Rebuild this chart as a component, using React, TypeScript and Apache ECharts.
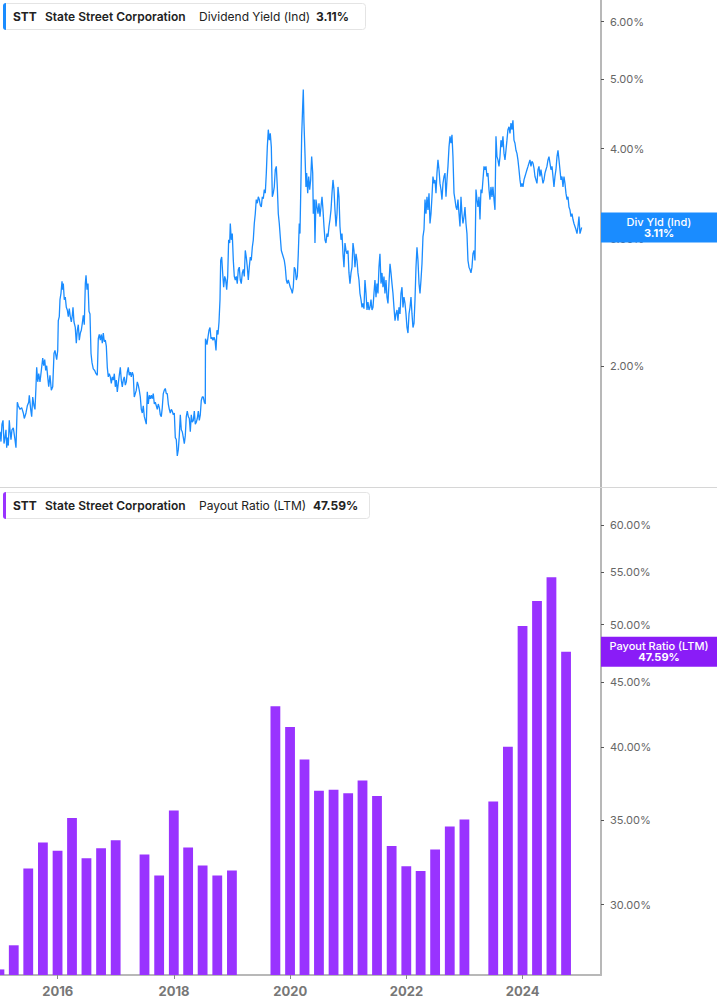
import React, { useEffect, useRef } from "react";
import * as echarts from "echarts";

// ---------- data ----------
const yearTicks = [2016, 2018, 2020, 2022, 2024];
const yieldTicks = [2, 3, 4, 5, 6];
const payoutTicks = [30, 35, 40, 45, 50, 55, 60];

const xStart = 2015.007;
const xEnd = 2025.347;
const yieldMin = 1.358;
const yieldMax = 6.43;
const payoutMin = 26.38;
const payoutMax = 64.17;

const latestYield = 3.11;
const latestPayout = 47.59;

const payoutDates = [
  "2014-12-31", "2015-03-31", "2015-06-30", "2015-09-30", "2015-12-31",
  "2016-03-31", "2016-06-30", "2016-09-30", "2016-12-31",
  "2017-06-30", "2017-09-30", "2017-12-31",
  "2018-03-31", "2018-06-30", "2018-09-30", "2018-12-31",
  "2019-09-30", "2019-12-31",
  "2020-03-31", "2020-06-30", "2020-09-30", "2020-12-31",
  "2021-03-31", "2021-06-30", "2021-09-30", "2021-12-31",
  "2022-03-31", "2022-06-30", "2022-09-30", "2022-12-31",
  "2023-06-30", "2023-09-30", "2023-12-31",
  "2024-03-31", "2024-06-30", "2024-09-30",
];
const payoutValues = [
  26.65, 27.85, 32.04, 33.6, 33.09,
  35.14, 32.65, 33.25, 33.74,
  32.87, 31.63, 35.62,
  33.29, 32.22, 31.63, 31.92,
  43.08, 41.48,
  39.1, 36.92, 36.99, 36.75,
  37.63, 36.57, 33.39, 32.17,
  31.9, 33.17, 34.59, 35.04,
  36.21, 40.01, 49.88,
  52.22, 54.53, 47.59,
];

// [decimal year, dividend yield %]
const divYield: [number, number][] = [
  [2015.007,1.62],[2015.024,1.57],[2015.041,1.66],[2015.059,1.68],[2015.076,1.56],[2015.093,1.59],[2015.110,1.63],[2015.122,1.54],[2015.133,1.59],[2015.150,1.55],
  [2015.167,1.68],[2015.179,1.63],[2015.196,1.58],[2015.213,1.63],[2015.236,1.64],[2015.260,1.59],[2015.282,1.54],[2015.294,1.54],[2015.305,1.78],[2015.322,1.76],
  [2015.351,1.74],[2015.380,1.75],[2015.408,1.72],[2015.425,1.69],[2015.454,1.72],[2015.477,1.76],[2015.501,1.78],[2015.511,1.82],[2015.535,1.74],[2015.552,1.70],
  [2015.570,1.81],[2015.592,1.76],[2015.609,1.74],[2015.626,1.87],[2015.638,1.99],[2015.656,1.90],[2015.673,1.95],[2015.695,1.90],[2015.718,1.97],[2015.742,2.05],
  [2015.759,2.00],[2015.776,2.04],[2015.793,1.97],[2015.810,2.00],[2015.828,1.93],[2015.845,1.87],[2015.867,1.94],[2015.890,1.85],[2015.914,1.87],[2015.936,2.08],
  [2015.953,2.10],[2015.982,2.04],[2016.000,2.10],[2016.010,2.31],[2016.027,2.34],[2016.039,2.47],[2016.056,2.52],[2016.074,2.62],[2016.086,2.55],[2016.096,2.60],
  [2016.113,2.47],[2016.130,2.49],[2016.148,2.41],[2016.165,2.39],[2016.182,2.34],[2016.199,2.40],[2016.216,2.34],[2016.234,2.30],[2016.251,2.35],[2016.263,2.41],
  [2016.280,2.30],[2016.302,2.26],[2016.320,2.15],[2016.337,2.24],[2016.354,2.28],[2016.371,2.17],[2016.389,2.22],[2016.406,2.24],[2016.423,2.29],[2016.440,2.35],
  [2016.457,2.28],[2016.475,2.60],[2016.487,2.67],[2016.504,2.55],[2016.521,2.60],[2016.538,2.38],[2016.555,2.36],[2016.573,2.08],[2016.590,2.02],[2016.612,1.98],
  [2016.636,1.97],[2016.659,1.95],[2016.681,1.94],[2016.698,2.18],[2016.715,2.21],[2016.733,2.17],[2016.750,2.21],[2016.767,2.15],[2016.784,2.22],[2016.801,2.16],
  [2016.819,2.17],[2016.836,2.13],[2016.853,1.99],[2016.870,1.93],[2016.887,1.95],[2016.905,1.93],[2016.922,1.89],[2016.939,1.93],[2016.956,1.91],[2016.974,1.95],
  [2016.991,1.87],[2017.008,1.91],[2017.025,1.84],[2017.042,1.89],[2017.059,1.94],[2017.077,1.99],[2017.094,1.91],[2017.111,1.87],[2017.128,1.91],[2017.145,1.93],
  [2017.163,1.88],[2017.180,1.90],[2017.197,1.96],[2017.214,1.99],[2017.231,1.94],[2017.249,1.96],[2017.266,1.93],[2017.283,1.96],[2017.300,1.94],[2017.317,1.81],
  [2017.335,1.83],[2017.352,1.85],[2017.369,1.90],[2017.386,1.88],[2017.403,1.85],[2017.421,1.81],[2017.438,1.74],[2017.455,1.72],[2017.472,1.76],[2017.490,1.70],
  [2017.507,1.68],[2017.524,1.66],[2017.541,1.84],[2017.558,1.77],[2017.576,1.82],[2017.593,1.80],[2017.610,1.82],[2017.627,1.80],[2017.644,1.83],[2017.662,1.77],
  [2017.679,1.78],[2017.696,1.76],[2017.713,1.74],[2017.730,1.77],[2017.748,1.75],[2017.765,1.71],[2017.782,1.70],[2017.799,1.75],[2017.816,1.83],[2017.834,1.85],
  [2017.851,1.86],[2017.868,1.83],[2017.885,1.83],[2017.903,1.77],[2017.920,1.74],[2017.937,1.72],[2017.954,1.74],[2017.971,1.73],[2017.989,1.71],[2018.006,1.72],
  [2018.023,1.59],[2018.040,1.58],[2018.057,1.50],[2018.075,1.53],[2018.092,1.60],[2018.109,1.71],[2018.126,1.63],[2018.143,1.62],[2018.161,1.59],[2018.178,1.56],
  [2018.195,1.60],[2018.212,1.70],[2018.229,1.73],[2018.247,1.70],[2018.264,1.69],[2018.281,1.62],[2018.298,1.71],[2018.315,1.67],[2018.333,1.68],[2018.350,1.73],
  [2018.367,1.66],[2018.384,1.67],[2018.401,1.69],[2018.419,1.73],[2018.436,1.68],[2018.453,1.71],[2018.470,1.79],[2018.487,1.81],[2018.505,1.81],[2018.522,1.78],
  [2018.539,1.77],[2018.542,2.18],[2018.551,2.17],[2018.568,2.14],[2018.585,2.19],[2018.603,2.24],[2018.620,2.26],[2018.637,2.18],[2018.654,2.19],[2018.671,2.17],
  [2018.689,2.19],[2018.706,2.17],[2018.723,2.10],[2018.740,2.24],[2018.757,2.21],[2018.775,2.30],[2018.792,2.47],[2018.804,2.80],[2018.821,2.83],[2018.838,2.69],
  [2018.855,2.57],[2018.873,2.66],[2018.890,2.63],[2018.907,2.55],[2018.924,2.66],[2018.941,2.99],[2018.959,2.96],[2018.969,3.15],[2018.986,2.99],[2019.003,3.05],
  [2019.021,2.80],[2019.038,2.66],[2019.055,2.63],[2019.072,2.66],[2019.089,2.60],[2019.107,2.72],[2019.124,2.74],[2019.141,2.63],[2019.158,2.60],[2019.176,2.69],
  [2019.193,2.72],[2019.210,2.66],[2019.227,2.89],[2019.244,2.83],[2019.262,2.74],[2019.279,2.63],[2019.296,2.74],[2019.313,2.83],[2019.330,2.80],[2019.348,2.92],
  [2019.365,2.99],[2019.382,3.15],[2019.399,3.25],[2019.416,3.40],[2019.434,3.36],[2019.451,3.43],[2019.468,3.40],[2019.485,3.34],[2019.503,3.32],[2019.520,3.43],
  [2019.537,3.41],[2019.554,3.51],[2019.571,3.47],[2019.589,3.70],[2019.606,4.02],[2019.623,4.25],[2019.640,4.11],[2019.657,4.20],[2019.675,4.02],[2019.692,3.43],
  [2019.709,3.47],[2019.726,3.54],[2019.743,3.74],[2019.761,3.78],[2019.778,3.54],[2019.795,3.25],[2019.812,3.15],[2019.829,3.02],[2019.847,2.89],[2019.864,2.86],
  [2019.881,2.83],[2019.898,2.80],[2019.915,2.74],[2019.933,2.63],[2019.950,2.60],[2019.967,2.63],[2019.984,2.60],[2020.001,2.57],[2020.019,2.55],[2020.036,2.52],
  [2020.053,2.57],[2020.070,2.74],[2020.087,2.72],[2020.105,2.63],[2020.122,2.66],[2020.139,2.86],[2020.156,3.15],[2020.168,3.05],[2020.185,3.62],[2020.197,4.16],
  [2020.214,4.57],[2020.225,4.83],[2020.237,4.34],[2020.254,3.94],[2020.271,3.54],[2020.283,3.70],[2020.301,3.47],[2020.318,3.66],[2020.335,3.51],[2020.352,3.62],
  [2020.369,3.90],[2020.387,3.70],[2020.397,3.25],[2020.414,3.40],[2020.426,2.96],[2020.443,3.40],[2020.461,3.32],[2020.478,3.25],[2020.495,3.36],[2020.512,3.22],
  [2020.529,3.32],[2020.547,3.43],[2020.564,3.29],[2020.581,3.12],[2020.598,2.99],[2020.615,2.96],[2020.633,3.05],[2020.650,3.02],[2020.667,3.12],[2020.684,3.19],
  [2020.702,3.29],[2020.719,3.47],[2020.736,3.62],[2020.753,3.51],[2020.770,3.29],[2020.788,3.12],[2020.805,3.25],[2020.822,3.54],[2020.839,3.43],[2020.856,3.12],
  [2020.874,2.99],[2020.891,3.05],[2020.908,2.86],[2020.925,2.74],[2020.942,2.96],[2020.960,2.89],[2020.977,2.86],[2020.994,2.89],[2021.011,2.69],[2021.028,2.60],
  [2021.046,2.69],[2021.063,2.74],[2021.080,2.96],[2021.097,2.89],[2021.114,2.74],[2021.132,2.86],[2021.149,2.80],[2021.166,2.69],[2021.183,2.63],[2021.200,2.52],
  [2021.218,2.47],[2021.235,2.41],[2021.252,2.44],[2021.269,2.40],[2021.286,2.63],[2021.304,2.52],[2021.321,2.39],[2021.338,2.45],[2021.355,2.39],[2021.372,2.41],
  [2021.390,2.47],[2021.407,2.39],[2021.424,2.41],[2021.441,2.52],[2021.458,2.63],[2021.476,2.49],[2021.493,2.60],[2021.510,2.52],[2021.527,2.74],[2021.544,2.86],
  [2021.562,2.60],[2021.579,2.69],[2021.596,2.57],[2021.613,2.66],[2021.630,2.52],[2021.648,2.63],[2021.665,2.49],[2021.682,2.44],[2021.699,2.60],[2021.717,2.77],
  [2021.734,2.69],[2021.751,2.60],[2021.768,2.52],[2021.785,2.41],[2021.803,2.31],[2021.820,2.36],[2021.837,2.39],[2021.854,2.31],[2021.871,2.41],[2021.889,2.36],
  [2021.906,2.52],[2021.923,2.57],[2021.940,2.41],[2021.957,2.49],[2021.975,2.44],[2021.992,2.36],[2022.009,2.26],[2022.026,2.22],[2022.044,2.36],[2022.061,2.41],
  [2022.078,2.49],[2022.095,2.36],[2022.112,2.26],[2022.130,2.29],[2022.147,2.47],[2022.164,2.74],[2022.181,2.92],[2022.198,2.80],[2022.216,2.60],[2022.233,2.52],
  [2022.250,2.63],[2022.267,2.77],[2022.284,3.02],[2022.302,3.09],[2022.319,3.40],[2022.336,3.25],[2022.353,3.43],[2022.370,3.29],[2022.388,3.47],[2022.405,3.15],
  [2022.422,3.25],[2022.439,3.43],[2022.456,3.66],[2022.474,3.58],[2022.491,3.62],[2022.508,3.47],[2022.525,3.70],[2022.542,3.86],[2022.560,3.74],[2022.577,3.58],
  [2022.594,3.51],[2022.611,3.40],[2022.628,3.58],[2022.646,3.66],[2022.663,3.70],[2022.680,3.43],[2022.697,3.62],[2022.714,3.78],[2022.732,4.02],[2022.749,4.16],
  [2022.766,4.07],[2022.783,4.18],[2022.800,3.90],[2022.818,3.47],[2022.835,3.40],[2022.852,3.32],[2022.869,3.29],[2022.886,3.40],[2022.904,3.25],[2022.921,3.12],
  [2022.938,3.43],[2022.955,3.25],[2022.972,3.15],[2022.990,3.22],[2023.007,3.32],[2023.024,3.15],[2023.041,3.05],[2023.058,2.80],[2023.076,2.74],[2023.093,2.72],
  [2023.110,2.69],[2023.127,2.74],[2023.144,2.86],[2023.162,2.89],[2023.179,2.80],[2023.196,3.51],[2023.213,3.40],[2023.230,3.32],[2023.248,3.43],[2023.265,3.19],
  [2023.282,3.51],[2023.299,3.47],[2023.316,3.62],[2023.334,3.78],[2023.351,3.74],[2023.368,3.78],[2023.385,3.66],[2023.402,3.70],[2023.420,3.51],[2023.437,3.40],
  [2023.454,3.54],[2023.471,3.43],[2023.488,3.54],[2023.506,3.40],[2023.523,3.29],[2023.540,4.16],[2023.557,3.90],[2023.574,3.86],[2023.592,3.78],[2023.609,3.90],
  [2023.626,4.11],[2023.643,4.02],[2023.660,4.16],[2023.678,3.94],[2023.695,3.86],[2023.712,3.98],[2023.729,4.11],[2023.746,4.25],[2023.764,4.29],[2023.781,4.20],
  [2023.798,4.34],[2023.815,4.25],[2023.832,4.38],[2023.850,4.11],[2023.867,4.07],[2023.884,3.98],[2023.901,3.94],[2023.918,3.86],[2023.936,3.74],[2023.953,3.62],
  [2023.970,3.54],[2023.987,3.58],[2024.005,3.54],[2024.022,3.62],[2024.039,3.66],[2024.056,3.70],[2024.073,3.74],[2024.091,3.78],[2024.108,3.82],[2024.125,3.86],
  [2024.142,3.78],[2024.159,3.84],[2024.177,3.82],[2024.194,3.76],[2024.211,3.66],[2024.228,3.62],[2024.245,3.58],[2024.263,3.74],[2024.280,3.78],[2024.297,3.66],
  [2024.314,3.74],[2024.331,3.66],[2024.349,3.58],[2024.366,3.62],[2024.383,3.70],[2024.400,3.74],[2024.417,3.78],[2024.435,3.86],[2024.452,3.90],[2024.469,3.82],
  [2024.486,3.74],[2024.504,3.78],[2024.521,3.66],[2024.538,3.54],[2024.555,3.66],[2024.572,3.74],[2024.590,3.90],[2024.607,3.98],[2024.624,3.86],[2024.641,3.74],
  [2024.658,3.62],[2024.676,3.66],[2024.693,3.54],[2024.710,3.66],[2024.727,3.58],[2024.744,3.47],[2024.762,3.40],[2024.779,3.43],[2024.796,3.32],[2024.813,3.29],
  [2024.830,3.22],[2024.848,3.25],[2024.865,3.19],[2024.882,3.15],[2024.899,3.12],[2024.916,3.09],[2024.934,3.05],[2024.951,3.12],[2024.968,3.22],[2024.985,3.05],
  [2025.014,3.11],
];

// ---------- styling ----------
const FONT = "Inter, 'Noto Sans', sans-serif";
const BLUE = "#1a8cff";
const PURPLE = "#9933ff";
const BADGE_PURPLE = "#8a1cf7";
const AXIS_GRAY = "#b8b8b8";
const LABEL_GRAY = "#666666";

function toDecYear(d: string): number {
  const [y, m, dd] = d.split("-").map(Number);
  const start = Date.UTC(y, 0, 1);
  const end = Date.UTC(y + 1, 0, 1);
  return y + (Date.UTC(y, m - 1, dd) - start) / (end - start);
}

function legendBox(
  top: number,
  width: number,
  accent: string,
  metric: string,
  metricX: number,
  value: string,
  valueX: number
) {
  const cy = top + 13.5;
  const txt = (text: string, x: number, weight: string | number) => ({
    type: "text",
    z: 110,
    style: {
      text,
      x,
      y: cy,
      fill: "#222",
      fontFamily: FONT,
      fontSize: 12,
      fontWeight: weight,
      align: "left",
      verticalAlign: "middle",
    },
  });
  return [
    {
      type: "rect",
      z: 100,
      shape: { x: 3.5, y: top + 0.5, width, height: 26, r: 3 },
      style: { fill: "#ffffff", stroke: "#e4e4e4", lineWidth: 1 },
    },
    {
      type: "rect",
      z: 105,
      shape: { x: 3, y: top, width: 3, height: 27, r: [3, 0, 0, 3] },
      style: { fill: accent },
    },
    txt("STT", 13, 700),
    txt("State Street Corporation", 45, 600),
    txt(metric, metricX, 400),
    txt(value, valueX, 700),
  ];
}

function badge(cy: number, color: string, line1: string, line2: string) {
  return [
    {
      type: "rect",
      z: 115,
      shape: { x: 601, y: cy - 15, width: 116, height: 30 },
      style: { fill: color },
    },
    {
      type: "text",
      z: 120,
      style: {
        text: `{a|${line1}}\n{b|${line2}}`,
        x: 659,
        y: cy,
        align: "center",
        verticalAlign: "middle",
        fill: "#ffffff",
        fontFamily: FONT,
        fontSize: 11,
        rich: {
          a: { fill: "#ffffff", fontFamily: FONT, fontSize: 11, fontWeight: 500, lineHeight: 11, align: "center" },
          b: { fill: "#ffffff", fontFamily: FONT, fontSize: 11, fontWeight: 700, lineHeight: 11, align: "center" },
        },
      },
    },
  ];
}

export default function App() {
  const ref = useRef<HTMLDivElement>(null);

  useEffect(() => {
    if (!ref.current) return;
    const chart = echarts.init(ref.current, undefined, { renderer: "svg" });
    const ln = Math.log;
    const pBase = ln(payoutMin);

    const option: any = {
      animation: false,
      backgroundColor: "#ffffff",
      textStyle: { fontFamily: FONT },
      grid: [
        { left: 0, right: 116, top: 0, height: 487 },
        { left: 0, right: 116, top: 488, bottom: 30 },
      ],
      xAxis: [
        {
          type: "value",
          gridIndex: 0,
          min: xStart,
          max: xEnd,
          axisLine: { show: false },
          axisTick: { show: false },
          axisLabel: { show: false },
          splitLine: { show: false },
        },
        {
          type: "value",
          gridIndex: 1,
          min: xStart,
          max: xEnd,
          axisLine: { show: true, lineStyle: { color: AXIS_GRAY, width: 2 } },
          axisTick: {
            show: true,
            customValues: yearTicks,
            length: 4,
            lineStyle: { color: "#888", width: 1 },
          },
          axisLabel: {
            customValues: yearTicks,
            formatter: (v: number) => String(Math.round(v)),
            color: "#777",
            fontWeight: "bold",
            fontSize: 13,
            fontFamily: FONT,
            margin: 9,
          },
          splitLine: { show: false },
        },
      ],
      yAxis: [
        {
          type: "value",
          gridIndex: 0,
          position: "right",
          min: ln(yieldMin),
          max: ln(yieldMax),
          axisLine: { show: true, lineStyle: { color: AXIS_GRAY, width: 2 } },
          axisTick: {
            show: true,
            customValues: yieldTicks.map((t) => ln(t)),
            length: 3,
            lineStyle: { color: "#555", width: 1 },
          },
          axisLabel: {
            customValues: yieldTicks.map((t) => ln(t)),
            formatter: (v: number) => Math.exp(v).toFixed(2) + "%",
            color: LABEL_GRAY,
            fontSize: 11,
            fontFamily: FONT,
            margin: 9,
          },
          splitLine: { show: false },
        },
        {
          type: "value",
          gridIndex: 1,
          position: "right",
          min: 0,
          max: ln(payoutMax) - pBase,
          axisLine: { show: true, lineStyle: { color: AXIS_GRAY, width: 2 } },
          axisTick: {
            show: true,
            customValues: payoutTicks.map((t) => ln(t) - pBase),
            length: 3,
            lineStyle: { color: "#555", width: 1 },
          },
          axisLabel: {
            customValues: payoutTicks.map((t) => ln(t) - pBase),
            formatter: (v: number) => (payoutMin * Math.exp(v)).toFixed(2) + "%",
            color: LABEL_GRAY,
            fontSize: 11,
            fontFamily: FONT,
            margin: 9,
          },
          splitLine: { show: false },
        },
      ],
      series: [
        {
          type: "line",
          xAxisIndex: 0,
          yAxisIndex: 0,
          data: divYield.map(([t, v]) => [t, ln(v)]),
          showSymbol: false,
          symbol: "none",
          silent: true,
          lineStyle: { color: BLUE, width: 1.3 },
        },
        {
          type: "bar",
          xAxisIndex: 1,
          yAxisIndex: 1,
          data: payoutDates.map((d, i) => [toDecYear(d), ln(payoutValues[i]) - pBase]),
          barWidth: 9.8,
          clip: true,
          silent: true,
          itemStyle: { color: PURPLE },
        },
      ],
    };
    chart.setOption(option);

    const yY = chart.convertToPixel({ yAxisIndex: 0 } as any, ln(latestYield)) as number;
    const yP = chart.convertToPixel({ yAxisIndex: 1 } as any, ln(latestPayout) - pBase) as number;

    chart.setOption({
      graphic: [
        {
          type: "line",
          z: 90,
          shape: { x1: 0, y1: 487.5, x2: 717, y2: 487.5 },
          style: { stroke: "#d6d6d6", lineWidth: 1 },
        },
        ...legendBox(3, 362, BLUE, "Dividend Yield (Ind)", 199, latestYield.toFixed(2) + "%", 316),
        ...legendBox(492, 366, PURPLE, "Payout Ratio (LTM)", 199, latestPayout.toFixed(2) + "%", 313),
        ...badge(yY, BLUE, "Div Yld (Ind)", latestYield.toFixed(2) + "%"),
        ...badge(yP, BADGE_PURPLE, "Payout Ratio (LTM)", latestPayout.toFixed(2) + "%"),
      ],
    });

    return () => chart.dispose();
  }, []);

  return (
    <div
      ref={ref}
      style={{ position: "fixed", left: 0, top: 0, width: 717, height: 1005, background: "#fff" }}
    />
  );
}
